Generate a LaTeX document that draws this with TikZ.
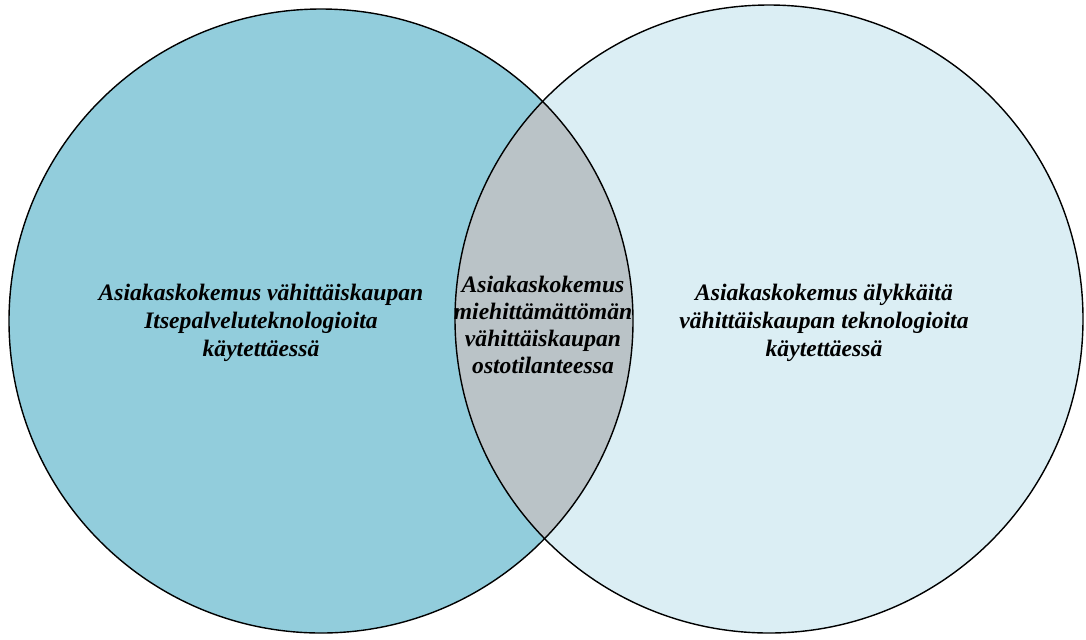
\documentclass[tikz,border=0pt]{standalone}
\usepackage{fontspec}
\setmainfont{Liberation Serif}
\usepackage{xcolor}
\usepackage{tikz}
\usetikzlibrary{positioning}
\definecolor{vennleft}{RGB}{146, 205, 220}
\definecolor{vennright}{RGB}{219, 238, 244}
\definecolor{venngray}{RGB}{186, 195, 199}

\tikzset{
    venntext/.style={
        align=center,
        font=\fontsize{11.8}{14}\selectfont\bfseries\itshape,
        inner sep=0pt
    }
}

\begin{document}
\begin{tikzpicture}[x=0.5pt,y=-0.5pt]
\useasboundingbox (0,0) rectangle (1086,639);
\coordinate (cl) at (321,321);
\coordinate (cr) at (769,319);
% the two sets
\fill [vennleft] (cl) circle [radius=312];
\fill [vennright] (cr) circle [radius=314];
% overlap
\begin{scope}
    \clip (cl) circle [radius=312];
    \fill [venngray] (cr) circle [radius=314];
\end{scope}
\draw [line width=0.7pt] (cl) circle [radius=312];
\draw [line width=0.7pt] (cr) circle [radius=314];

\node [venntext] (lefttext) at (261,323) {
    Asiakaskokemus vähittäiskaupan\\
    Itsepalveluteknologioita\\
    käytettäessä
};
\node [venntext, font=\fontsize{11.8}{13.5}\selectfont\bfseries\itshape] (midtext) at (543,325) {
    Asiakaskokemus\\
    miehittämättömän\\
    vähittäiskaupan\\
    ostotilanteessa
};
\node [venntext] (righttext) at (824,323) {
    Asiakaskokemus älykkäitä\\
    vähittäiskaupan teknologioita\\
    käytettäessä
};
\end{tikzpicture}
\end{document}
